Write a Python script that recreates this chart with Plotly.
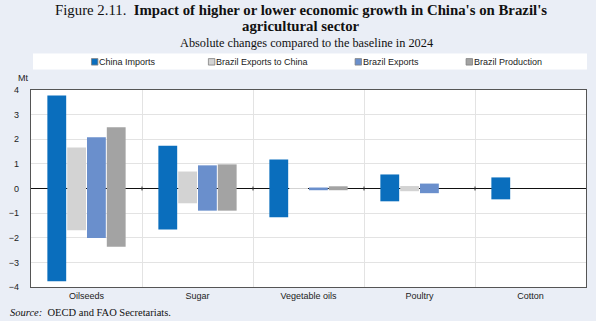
import plotly.graph_objects as go

categories = ["Oilseeds", "Sugar", "Vegetable oils", "Poultry", "Cotton"]
series_names = ["China Imports", "Brazil Exports to China", "Brazil Exports", "Brazil Production"]
series_colors = ["#0A6EBD", "#D3D3D3", "#6A8FCC", "#A3A3A3"]

# higher-growth (top) and lower-growth (bottom) changes, Mt
china_imports_high = [3.78, 1.74, 1.18, 0.57, 0.45]
china_imports_low = [-3.77, -1.66, -1.17, -0.52, -0.44]
exports_china_high = [1.67, 0.69, 0.02, 0.10, None]
exports_china_low = [-1.70, -0.60, -0.02, -0.11, None]
brazil_exports_high = [2.08, 0.94, 0.04, 0.20, None]
brazil_exports_low = [-2.01, -0.90, -0.07, -0.19, None]
brazil_prod_high = [2.49, 0.98, 0.09, None, None]
brazil_prod_low = [-2.37, -0.90, -0.07, None, None]

highs = [china_imports_high, exports_china_high, brazil_exports_high, brazil_prod_high]
lows = [china_imports_low, exports_china_low, brazil_exports_low, brazil_prod_low]

W, H = 596, 321
L, R, T, B = 27, 587, 89.5, 287
SANS = "Liberation Sans, Arial, sans-serif"


def px(x):
    return (x - L) / (R - L)


def py(y):
    return (B - y) / (B - T)


fig = go.Figure()
for name, color, hi, lo in zip(series_names, series_colors, highs, lows):
    heights = [None if (h is None or l is None) else h - l for h, l in zip(hi, lo)]
    fig.add_trace(go.Bar(
        x=categories, y=heights, base=lo, name=name,
        marker=dict(color=color, line=dict(width=0)),
        showlegend=False,
    ))

shapes = []
annotations = []
# legend box
shapes.append(dict(type="rect", xref="paper", yref="paper",
                   x0=px(29), x1=px(588), y0=py(69), y1=py(53),
                   fillcolor="white", line=dict(width=0), layer="below"))
legend_x = [88, 206, 354, 466]
for name, color, lx in zip(series_names, series_colors, legend_x):
    shapes.append(dict(type="rect", xref="paper", yref="paper",
                       x0=px(lx), x1=px(lx + 6.5), y0=py(64.5), y1=py(58),
                       fillcolor=color, line=dict(color="#808080", width=0.8)))
    annotations.append(dict(xref="paper", yref="paper", x=px(lx + 6), y=py(61.3),
                            xanchor="left", yanchor="middle", showarrow=False,
                            text=name,
                            font=dict(family=SANS, size=9, color="#222")))

# small ticks on zero line at category boundaries
for b in [0.5, 1.5, 2.5, 3.5]:
    shapes.append(dict(type="line", xref="x", yref="y", x0=b, x1=b, y0=-0.08, y1=0.08,
                       line=dict(color="#333", width=1)))

# titles
annotations.append(dict(xref="paper", yref="paper", x=px(299), y=py(9), xanchor="center",
                        yanchor="middle", showarrow=False,
                        text="Figure 2.11.  <b>Impact of higher or lower economic growth in China's on Brazil's</b>",
                        font=dict(family="Liberation Serif", size=14.8, color="#111")))
annotations.append(dict(xref="paper", yref="paper", x=px(299), y=py(25.5), xanchor="center",
                        yanchor="middle", showarrow=False,
                        text="<b>agricultural sector</b>",
                        font=dict(family="Liberation Serif", size=14.8, color="#111")))
annotations.append(dict(xref="paper", yref="paper", x=px(305), y=py(42.5), xanchor="center",
                        yanchor="middle", showarrow=False,
                        text="Absolute changes compared to the baseline in 2024",
                        font=dict(family="Liberation Serif", size=12.3, color="#111")))
annotations.append(dict(xref="paper", yref="paper", x=px(12), y=py(77), xanchor="left",
                        yanchor="middle", showarrow=False, text="Mt",
                        font=dict(family=SANS, size=9, color="#222")))
annotations.append(dict(xref="paper", yref="paper", x=px(4), y=py(313), xanchor="left",
                        yanchor="middle", showarrow=False,
                        text="<i>Source:</i>  OECD and FAO Secretariats.",
                        font=dict(family="Liberation Serif", size=10.5, color="#111")))

fig.update_layout(
    width=W, height=H,
    margin=dict(l=L, r=W - R, t=T, b=H - B, pad=0),
    paper_bgcolor="#EAEEF6",
    plot_bgcolor="white",
    barmode="group",
    bargap=0.286,
    bargroupgap=0.05,
    shapes=shapes,
    annotations=annotations,
    showlegend=False,
)
fig.update_xaxes(
    type="category", tickson="boundaries", showgrid=True, gridcolor="#E3E3E3",
    showline=True, linecolor="#555", linewidth=1.2, mirror=True, ticks="",
    tickfont=dict(family=SANS, size=9, color="#222"),
)
fig.update_yaxes(
    range=[-4, 4], dtick=1, showgrid=True, gridcolor="#E3E3E3",
    zeroline=True, zerolinecolor="#111", zerolinewidth=1.2,
    showline=True, linecolor="#555", linewidth=1.2, mirror=True, ticks="",
    tickfont=dict(family=SANS, size=9, color="#222"),
    ticklabelstandoff=9,
)

fig.write_html("out.html")
